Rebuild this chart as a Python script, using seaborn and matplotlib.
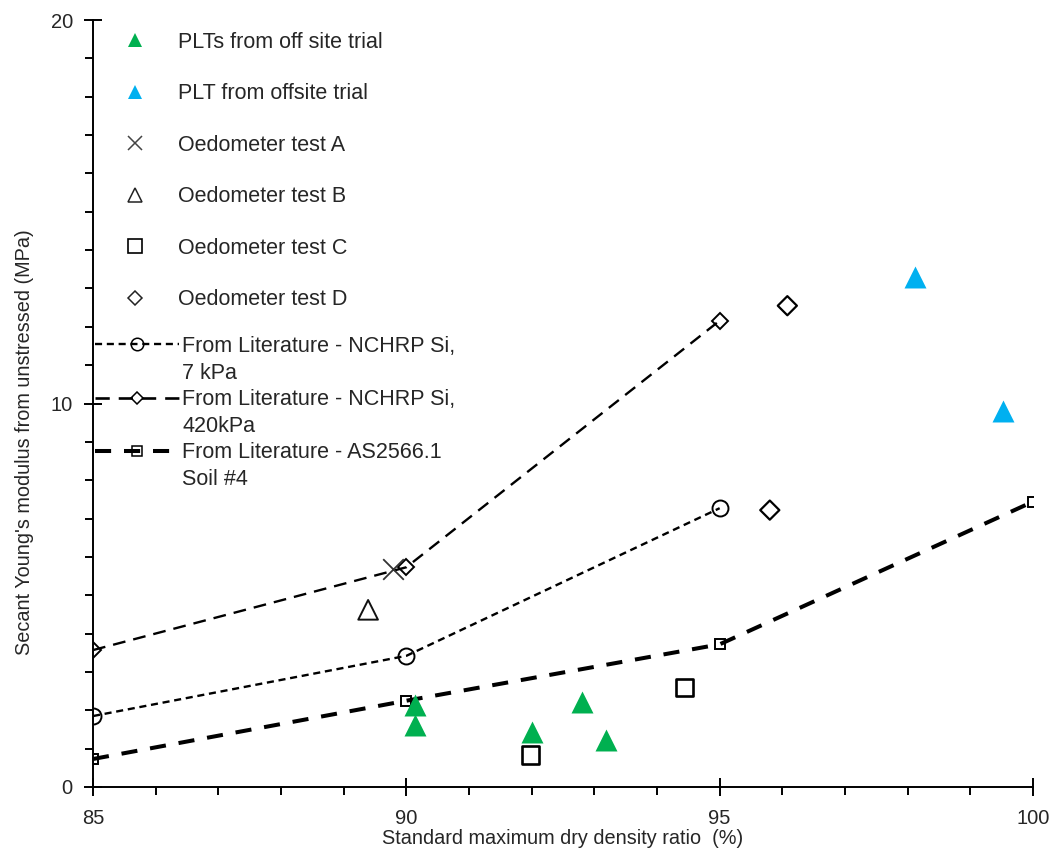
import matplotlib
matplotlib.use("Agg")
import matplotlib.pyplot as plt
import seaborn as sns
from matplotlib.lines import Line2D
from matplotlib.ticker import MultipleLocator

# ---------------- data ----------------
plt_onsite_x = [90.14, 90.14, 92.0, 92.81, 93.19]
plt_onsite_y = [2.13, 1.61, 1.43, 2.22, 1.23]

plt_offsite_x = [98.11, 99.52]
plt_offsite_y = [13.29, 9.81]

oedo_a_x = [89.78]
oedo_a_y = [5.68]
oedo_b_x = [89.39]
oedo_b_y = [4.62]
oedo_c_x = [91.98, 94.44]
oedo_c_y = [0.83, 2.59]
oedo_d_x = [96.08, 95.80]
oedo_d_y = [12.55, 7.22]

nchrp7_x = [85, 90, 95]
nchrp7_y = [1.85, 3.42, 7.27]
nchrp420_x = [85, 90, 95]
nchrp420_y = [3.57, 5.73, 12.16]
as2566_x = [85, 90, 95, 100]
as2566_y = [0.73, 2.25, 3.72, 7.44]

labels_pts = ["PLTs from off site trial", "PLT from offsite trial",
              "Oedometer test A", "Oedometer test B",
              "Oedometer test C", "Oedometer test D"]
labels_lines = ["From Literature - NCHRP Si,", "7 kPa",
                "From Literature - NCHRP Si,", "420kPa",
                "From Literature - AS2566.1", "Soil #4"]

x_label = "Standard maximum dry density ratio  (%)"
y_label = "Secant Young's modulus from unstressed (MPa)"

GREEN = "#00B050"
BLUE = "#00B0F0"
INK = "#000000"
TXT = "#262626"

# ---------------- style ----------------
sns.set_theme(style="white")
plt.rcParams["font.family"] = ["Liberation Sans", "DejaVu Sans"]

fig = plt.figure(figsize=(10.52, 8.51), dpi=100)
ax = fig.add_axes([93 / 1052, 1 - 787 / 851, (1033 - 93) / 1052, (787 - 20) / 851])

# ---------------- lines (literature) ----------------
ls7 = (0, (3.0, 2.0))
ls420 = (0, (5.4, 3.4))
lsAS = (0, (4.0, 3.2))

sns.lineplot(x=nchrp7_x, y=nchrp7_y, ax=ax, color=INK, lw=1.7, linestyle=ls7,
             marker="o", markersize=11.5, markerfacecolor="none",
             markeredgecolor=INK, markeredgewidth=1.4, zorder=3)
sns.lineplot(x=nchrp420_x, y=nchrp420_y, ax=ax, color=INK, lw=1.7, linestyle=ls420,
             marker="D", markersize=8.6, markerfacecolor="none",
             markeredgecolor=INK, markeredgewidth=1.4, zorder=3)
sns.lineplot(x=as2566_x, y=as2566_y, ax=ax, color=INK, lw=2.9, linestyle=lsAS,
             marker="s", markersize=6.7, markerfacecolor="none",
             markeredgecolor=INK, markeredgewidth=1.4, zorder=3)

# ---------------- scatter points ----------------
sns.scatterplot(x=plt_onsite_x, y=plt_onsite_y, ax=ax, marker="^", s=250,
                color=GREEN, linewidth=0, zorder=4)
sns.scatterplot(x=plt_offsite_x, y=plt_offsite_y, ax=ax, marker="^", s=250,
                color=BLUE, linewidth=0, zorder=4)
sns.scatterplot(x=oedo_a_x, y=oedo_a_y, ax=ax, marker="x", s=220,
                color="#333333", linewidth=1.3, zorder=4)
sns.scatterplot(x=oedo_b_x, y=oedo_b_y, ax=ax, marker="^", s=200,
                facecolor="none", edgecolor="#111111", linewidth=1.4, zorder=4)
sns.scatterplot(x=oedo_c_x, y=oedo_c_y, ax=ax, marker="s", s=160,
                facecolor="none", edgecolor=INK, linewidth=1.9, zorder=4)
sns.scatterplot(x=oedo_d_x, y=oedo_d_y, ax=ax, marker="D", s=95,
                facecolor="none", edgecolor=INK, linewidth=1.6, zorder=4)

# ---------------- axes ----------------
ax.set_xlim(85, 100)
ax.set_ylim(0, 20)
ax.xaxis.set_major_locator(MultipleLocator(5))
ax.xaxis.set_minor_locator(MultipleLocator(1))
ax.yaxis.set_major_locator(MultipleLocator(10))
ax.yaxis.set_minor_locator(MultipleLocator(1))
for side in ["top", "right"]:
    ax.spines[side].set_visible(False)
for side in ["left", "bottom"]:
    ax.spines[side].set_color(INK)
    ax.spines[side].set_linewidth(1.4)
ax.tick_params(which="both", left=True, bottom=True)
ax.tick_params(which="major", direction="inout", length=13, width=1.4,
               color=INK, labelsize=14.5, labelcolor=TXT)
ax.tick_params(axis="x", which="major", pad=9)
ax.tick_params(axis="y", which="major", pad=8)
ax.tick_params(which="minor", direction="out", length=6, width=1.4, color=INK)
for t in ax.get_xticklabels() + ax.get_yticklabels():
    t.set_fontsize(14.5)
ax.set_xlabel(x_label, fontsize=14.3, color=TXT, labelpad=1)
ax.set_ylabel(y_label, fontsize=14.3, color=TXT)
ax.yaxis.set_label_coords(-0.063, 0.45)
ax.grid(False)

# ---------------- legends ----------------
h_pts = [
    Line2D([], [], ls="none", marker="^", ms=10.5, color=GREEN, mew=0),
    Line2D([], [], ls="none", marker="^", ms=10.5, color=BLUE, mew=0),
    Line2D([], [], ls="none", marker="x", ms=10, color="#444444", mew=1.1),
    Line2D([], [], ls="none", marker="^", ms=9.5, mfc="none", mec="#222222", mew=1.1),
    Line2D([], [], ls="none", marker="s", ms=9.5, mfc="none", mec=INK, mew=1.2),
    Line2D([], [], ls="none", marker="D", ms=6.8, mfc="none", mec="#222222", mew=1.1),
]
leg1 = ax.legend(h_pts, labels_pts, loc="upper left", bbox_to_anchor=(0.022, 0.985),
                 frameon=False, fontsize=15.5, handlelength=2.0, handletextpad=1.0,
                 labelspacing=1.42, borderpad=0, borderaxespad=0, labelcolor=TXT)
ax.add_artist(leg1)

blank = Line2D([], [], ls="none")
h_lines = [
    Line2D([], [], color=INK, lw=1.7, ls=ls7, marker="o", ms=9, mfc="none", mew=1.1),
    blank,
    Line2D([], [], color=INK, lw=1.9, ls=ls420, marker="D", ms=6.5, mfc="none", mew=1.1),
    blank,
    Line2D([], [], color=INK, lw=2.9, ls=lsAS, marker="s", ms=6.5, mfc="none", mew=1.1),
    blank,
]
leg2 = ax.legend(h_lines, labels_lines, loc="upper left", bbox_to_anchor=(0.002, 0.588),
                 frameon=False, fontsize=15.5, handlelength=3.9, handletextpad=0.15,
                 labelspacing=0.26, borderpad=0, borderaxespad=0, labelcolor=TXT)

fig.savefig("out.png", dpi=100)
